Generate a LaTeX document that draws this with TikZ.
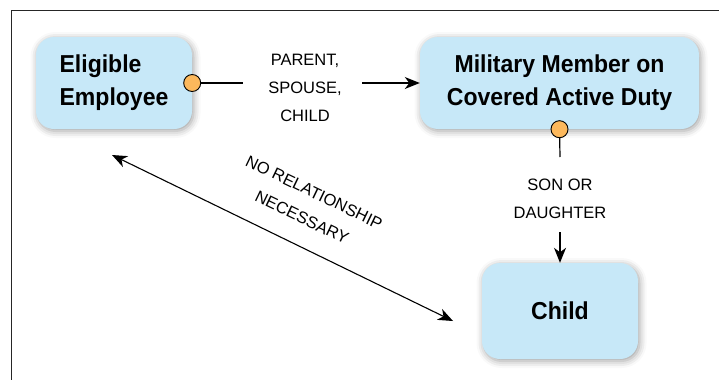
\documentclass[tikz,border=0pt]{standalone}
\usepackage{fontspec}
\setmainfont{Liberation Sans}
\newfontfamily\boxfont[FakeStretch=0.94]{Liberation Sans}
\usepackage{pgf,tikz}
\usetikzlibrary{arrows.meta}
\usetikzlibrary{shadows.blur}
\definecolor{boxblue}{RGB}{199,232,248}
\definecolor{dotorange}{RGB}{252,184,92}

\begin{document}
\begin{tikzpicture}[x=1pt,y=-1pt,
  rolebox/.style={rectangle, rounded corners=18pt, fill=boxblue,
    blur shadow={shadow xshift=1.5pt, shadow yshift=-2pt, shadow blur radius=7pt, shadow opacity=38},
    font=\boxfont\bfseries\fontsize{24.5}{33}\selectfont},
  linkdot/.style={circle, draw, fill=dotorange, inner sep=0pt, minimum size=17pt, line width=0.9pt},
  linklabel/.style={font=\fontsize{16.5}{28}\selectfont, align=center},
  link/.style={line width=1.2pt},
  tip/.style={-{Stealth[length=15pt, width=12pt, inset=4.5pt]}}]

\useasboundingbox (0,0) rectangle (719,380);
\draw[line width=1.5pt, black!85] (719,10.5) -- (11.5,10.5) -- (11.5,380);

\node[rolebox, minimum width=156pt, minimum height=92pt, align=left] (Elig) at (114,83) {Eligible\\Employee};
\node[rolebox, minimum width=279pt, minimum height=92pt, align=center] (Mil) at (559.5,83) {Military Member on\\Covered Active Duty};
\node[rolebox, minimum width=156pt, minimum height=96pt] (Child) at (560,311) {Child};

\coordinate (ElEnd) at (243,83);
\coordinate (MilStart) at (362,83);
\coordinate (MilEnd) at (560,157);
\coordinate (ChStart) at (560,232);
\coordinate (NoA) at (112,155);
\coordinate (NoB) at (453,321);

\draw[link] (Elig.east) -- (ElEnd);
\draw[link] (Mil.south) -- (MilEnd);
\node[linkdot] (ElDot) at (Elig.east) {};
\node[linkdot] (MilDot) at (Mil.south) {};

\node[linklabel] (ParLbl) at (305,88) {PARENT,\\SPOUSE,\\CHILD};
\node[linklabel] (SonLbl) at (560,198.5) {SON OR\\DAUGHTER};
\node[linklabel, rotate=-25.7] (NoLbl) at (308,205) {NO RELATIONSHIP\\NECESSARY};

\draw[link, tip] (MilStart) -- (Mil.west);
\draw[link, tip] (ChStart) -- (Child.north);
\draw[line width=1.1pt, {Stealth[length=15pt, width=12pt, inset=4.5pt]}-{Stealth[length=15pt, width=12pt, inset=4.5pt]}] (NoA) -- (NoB);

\end{tikzpicture}
\end{document}
